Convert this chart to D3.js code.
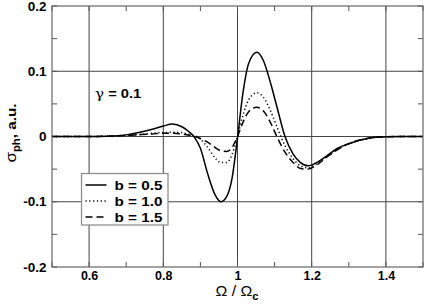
<!DOCTYPE html>
<html>
<head>
<meta charset="utf-8">
<script src="https://cdn.jsdelivr.net/npm/d3@7"></script>
<style>
  body { margin: 0; background: #fff; }
  text { font-family: "Liberation Sans", Arial, sans-serif; }
</style>
</head>
<body>
<svg id="chart" width="425" height="305"></svg>
<script>
// frequency grid, Omega / Omega_c
const omega = [0.50, 0.60, 0.65, 0.70, 0.74, 0.77, 0.80, 0.825, 0.85, 0.87, 0.885, 0.90, 0.92, 0.94, 0.955, 0.97, 0.985, 1.00,
    1.015, 1.03, 1.052, 1.07, 1.09, 1.106, 1.128, 1.15, 1.17, 1.19, 1.21, 1.24, 1.27, 1.30, 1.35, 1.40, 1.45, 1.50];

// sigma_ph for b = 0.5, 1.0, 1.5
const sigB05 = [0, 0, 0.0005, 0.0025, 0.007, 0.011, 0.016, 0.019, 0.015, 0.007, -0.002, -0.018, -0.058, -0.090, -0.100, -0.093, -0.065, -0.002,
    0.068, 0.112, 0.129, 0.116, 0.080, 0.046, 0.000, -0.027, -0.040, -0.045, -0.041, -0.030, -0.018, -0.011, -0.003, -0.0005, 0, 0];
const sigB10 = [0, 0, 0.0005, 0.002, 0.003, 0.005, 0.006, 0.0065, 0.006, 0.003, 0.001, -0.004, -0.017, -0.033, -0.040, -0.040, -0.028, 0.000,
    0.033, 0.056, 0.067, 0.060, 0.038, 0.015, -0.014, -0.034, -0.045, -0.048, -0.043, -0.031, -0.019, -0.011, -0.003, -0.0005, 0, 0];
const sigB15 = [0, 0, 0.0005, 0.0015, 0.003, 0.004, 0.005, 0.005, 0.004, 0.002, 0.000, -0.003, -0.009, -0.017, -0.022, -0.023, -0.017, 0.000,
    0.022, 0.038, 0.045, 0.039, 0.020, 0.000, -0.024, -0.040, -0.049, -0.050, -0.045, -0.032, -0.020, -0.011, -0.003, -0.0005, 0, 0];

const seriesNames = ['b = 0.5', 'b = 1.0', 'b = 1.5'];
const xTicks = [0.6, 0.8, 1, 1.2, 1.4];
const xMinor = [0.5, 0.7, 0.9, 1.1, 1.3, 1.5];
const yTicks = [-0.2, -0.1, 0, 0.1, 0.2];
const yMinor = [-0.15, -0.05, 0.05, 0.15];

const width = 425, height = 305;
const margin = { top: 6, right: 2, bottom: 38, left: 52 };
const stretch = 1.13; // the original lettering is a little wide

const svg = d3.select('#chart');

const x = d3.scaleLinear().domain([0.5, 1.5]).range([margin.left, width - margin.right]);
const y = d3.scaleLinear().domain([-0.2, 0.2]).range([height - margin.bottom, margin.top]);

const series = [sigB05, sigB10, sigB15].map((vals, i) => ({
    name: seriesNames[i],
    dash: [null, '1.2,2.6', '7,4'][i],
    points: omega.map((o, j) => [o, vals[j]])
}));

// grid
svg.append('g')
    .selectAll('line')
    .data(xTicks)
    .join('line')
    .attr('x1', d => x(d)).attr('x2', d => x(d))
    .attr('y1', y(-0.2)).attr('y2', y(0.2))
    .attr('stroke', '#444').attr('stroke-width', 1);

svg.append('g')
    .selectAll('line')
    .data(yTicks.filter(d => Math.abs(d) < 0.2))
    .join('line')
    .attr('x1', x(0.5)).attr('x2', x(1.5))
    .attr('y1', d => y(d)).attr('y2', d => y(d))
    .attr('stroke', '#444').attr('stroke-width', 1);

// axes (inward ticks)
const tickLen = 5;
const fmt = d => d === 0 ? '0' : d === 1 ? '1' : d.toFixed(1);

const xAxisB = svg.append('g')
    .attr('transform', `translate(0,${y(-0.2)})`)
    .call(d3.axisBottom(x).tickValues(xTicks).tickSize(0).tickPadding(4.5).tickFormat(fmt));
xAxisB.select('.domain').remove();
xAxisB.selectAll('text').attr('font-size', 12.5).attr('font-weight', 'bold').attr('fill', '#000')
    .attr('font-family', '"Liberation Sans", Arial, sans-serif');

const yAxisL = svg.append('g')
    .attr('transform', `translate(${x(0.5)},0)`)
    .call(d3.axisLeft(y).tickValues(yTicks).tickSize(0).tickPadding(5).tickFormat(fmt));
yAxisL.select('.domain').remove();
yAxisL.selectAll('text').attr('font-size', 12.5).attr('font-weight', 'bold').attr('fill', '#000')
    .attr('font-family', '"Liberation Sans", Arial, sans-serif')
    .attr('transform', 'scale(1.08,1)');

const ticks = svg.append('g').attr('stroke', '#555').attr('stroke-width', 1);
xMinor.concat(xTicks).forEach(v => {
    ticks.append('line').attr('x1', x(v)).attr('x2', x(v)).attr('y1', y(-0.2)).attr('y2', y(-0.2) - tickLen);
    ticks.append('line').attr('x1', x(v)).attr('x2', x(v)).attr('y1', y(0.2)).attr('y2', y(0.2) + tickLen);
});
yMinor.concat(yTicks).forEach(v => {
    ticks.append('line').attr('x1', x(0.5)).attr('x2', x(0.5) + tickLen).attr('y1', y(v)).attr('y2', y(v));
    ticks.append('line').attr('x1', x(1.5)).attr('x2', x(1.5) - tickLen).attr('y1', y(v)).attr('y2', y(v));
});

// curves
const line = d3.line()
    .x(d => x(d[0]))
    .y(d => y(d[1]))
    .curve(d3.curveMonotoneX);

svg.append('g')
    .selectAll('path')
    .data(series)
    .join('path')
    .attr('d', d => line(d.points))
    .attr('fill', 'none')
    .attr('stroke', '#000')
    .attr('stroke-width', 1.5)
    .attr('stroke-dasharray', d => d.dash);

// frame
svg.append('rect')
    .attr('x', x(0.5)).attr('y', y(0.2))
    .attr('width', x(1.5) - x(0.5)).attr('height', y(-0.2) - y(0.2))
    .attr('fill', 'none').attr('stroke', '#666').attr('stroke-width', 1.2);

// annotation
const ann = svg.append('text').attr('transform', `translate(95,98) scale(${stretch},1)`)
    .attr('font-size', 13).attr('font-weight', 'bold');
ann.append('tspan').attr('font-weight', 'normal').attr('font-family', '"DejaVu Serif", serif').attr('font-size', 13.5).text('γ');
ann.append('tspan').text(' = 0.1');

// legend
const legend = svg.append('g').attr('transform', 'translate(81.5,173.5)');
legend.append('rect')
    .attr('width', 86.5).attr('height', 51.5)
    .attr('fill', '#fff').attr('stroke', '#888').attr('stroke-width', 1.2);
const items = legend.selectAll('g.item')
    .data(series)
    .join('g')
    .attr('class', 'item')
    .attr('transform', (d, i) => `translate(0,${11.5 + i * 16})`);
items.append('line')
    .attr('x1', 4).attr('x2', 25)
    .attr('stroke', '#000').attr('stroke-width', 1.5)
    .attr('stroke-dasharray', d => d.dash);
items.append('text')
    .attr('transform', `translate(33,4.8) scale(${stretch},1)`)
    .attr('font-size', 13.5).attr('font-weight', 'bold')
    .text(d => d.name);

// x title
const xt = svg.append('text').attr('transform', `translate(237,296) scale(${stretch},1)`)
    .attr('text-anchor', 'middle').attr('font-size', 14);
xt.append('tspan').text('Ω / Ω');
xt.append('tspan').attr('font-size', 10).attr('font-weight', 'bold').attr('dy', 4).text('c');

// y title
const yt = svg.append('text')
    .attr('transform', `translate(15.5,133) rotate(-90) scale(${stretch},1)`)
    .attr('text-anchor', 'middle').attr('font-size', 13.5).attr('font-weight', 'bold');
yt.append('tspan').attr('font-weight', 'normal').attr('font-size', 15).text('σ');
yt.append('tspan').attr('font-size', 10).attr('dy', 4).text('ph');
yt.append('tspan').attr('dy', -4).text(', a.u.');
</script>
</body>
</html>
